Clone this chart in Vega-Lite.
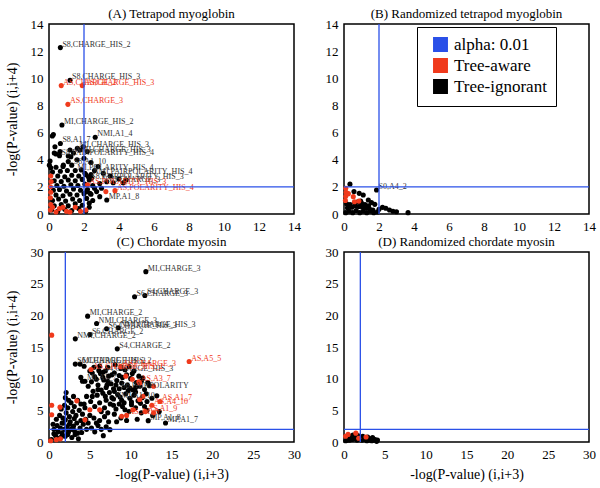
{
"$schema": "https://vega.github.io/schema/vega-lite/v6.json",
"padding": {"left": 4, "top": 7, "right": 0, "bottom": 5},
"config": {
 "font": "Liberation Serif",
 "view": {"stroke": "black", "strokeWidth": 1.5},
 "axis": {"domain": false, "grid": false, "ticks": false, "tickCount": 30, "format": "d", "labelFont": "Liberation Serif", "labelFontSize": 13, "labelColor": "black", "labelPadding": 6, "labelFlush": false, "labelOverlap": false, "labelBound": false, "titleFont": "Liberation Serif", "titleFontSize": 14, "titleFontWeight": "normal", "titleColor": "black", "titlePadding": 6},
 "axisY": {"titlePadding": 11},
 "title": {"font": "Liberation Serif", "fontSize": 13, "fontWeight": "normal", "color": "black", "offset": -3},
 "legend": {"labelFont": "Liberation Serif", "labelFontSize": 17, "labelColor": "black"},
 "text": {"font": "Liberation Serif"}
},
"datasets": {
 "A_ign": [
  {"x":0.65,"y":12.26,"label":"S8,CHARGE_HIS_2"},{"x":1.2,"y":9.85,"label":"S8,CHARGE_HIS_3"},{"x":0.74,"y":6.56,"label":"MI,CHARGE_HIS_2"},{"x":2.64,"y":5.65,"label":"NMI,A1_4"},{"x":0.65,"y":5.2,"label":"S8,A1_7"},{"x":1.62,"y":4.84,"label":"MI,CHARGE_HIS_3"},
  {"x":0.6,"y":4.3,"label":"S8,PAIRPOLARITY_HIS_4"},{"x":1.4,"y":4.5,"label":"NMI,CHARGE_HIS_3"},{"x":1.3,"y":3.6,"label":"S8,A1_10"},{"x":1.5,"y":3.2,"label":"MI,POLARITY_HIS_4"},{"x":2.4,"y":2.9,"label":"NMI,PAIRPOLARITY_HIS_4"},{"x":2.3,"y":2.5,"label":"S8,PAIRPOLARITY_HIS_3"},{"x":2.9,"y":2.25,"label":"NMI,CHARGE_3"},{"x":3.3,"y":1.03,"label":"MP,A1_8"},
  {"x":0.15,"y":0.3},{"x":0.5,"y":0.2},{"x":0.9,"y":0.35},{"x":1.3,"y":0.25},{"x":1.7,"y":0.4},{"x":2.1,"y":0.2},
  {"x":0.3,"y":0.6},{"x":0.7,"y":0.7},{"x":1.1,"y":0.6},{"x":1.5,"y":0.75},{"x":1.9,"y":0.65},{"x":2.3,"y":0.8},
  {"x":0.2,"y":1.0},{"x":0.55,"y":1.1},{"x":0.95,"y":0.95},{"x":1.35,"y":1.1},{"x":1.75,"y":1.0},{"x":2.15,"y":1.15},
  {"x":0.4,"y":1.4},{"x":0.8,"y":1.35},{"x":1.2,"y":1.45},{"x":1.6,"y":1.4},{"x":2.0,"y":1.5},{"x":2.4,"y":1.45},
  {"x":0.25,"y":1.75},{"x":0.6,"y":1.8},{"x":1.0,"y":1.7},{"x":1.4,"y":1.85},{"x":1.8,"y":1.75},{"x":2.2,"y":1.8},
  {"x":0.45,"y":2.1},{"x":0.85,"y":2.05},{"x":1.25,"y":2.15},{"x":1.65,"y":2.1},{"x":2.05,"y":2.2},{"x":2.5,"y":2.1},
  {"x":0.3,"y":2.45},{"x":0.7,"y":2.4},{"x":1.1,"y":2.5},{"x":1.5,"y":2.45},{"x":1.9,"y":2.55},
  {"x":0.5,"y":2.8},{"x":0.9,"y":2.75},{"x":1.3,"y":2.85},{"x":1.7,"y":2.8},{"x":2.1,"y":2.9},
  {"x":0.2,"y":3.1},{"x":0.65,"y":3.15},{"x":1.05,"y":3.2},{"x":1.85,"y":3.25},
  {"x":0.1,"y":3.4},{"x":0.4,"y":3.45},{"x":0.8,"y":3.5},
  {"x":0.06,"y":3.9},{"x":0.02,"y":3.6},{"x":0.19,"y":5.75},{"x":0.25,"y":5.85},{"x":0.34,"y":4.96},{"x":0.63,"y":4.6},{"x":0.4,"y":4.42},{"x":0.3,"y":4.5},
  {"x":1.1,"y":4.27},{"x":1.25,"y":4.22},{"x":1.2,"y":4.72},{"x":1.77,"y":4.72},{"x":1.96,"y":4.96},{"x":2.19,"y":4.6},{"x":0.82,"y":3.6},{"x":1.1,"y":3.86},
  {"x":2.05,"y":3.0},{"x":2.25,"y":2.75},{"x":2.43,"y":2.63},{"x":3.3,"y":2.38},{"x":3.67,"y":2.3},{"x":4.24,"y":2.3},{"x":2.6,"y":3.2},{"x":2.8,"y":3.5},{"x":3.1,"y":3.0},{"x":3.5,"y":2.8},{"x":4.0,"y":2.6},{"x":4.4,"y":2.5},{"x":2.4,"y":3.8},{"x":2.0,"y":4.1},{"x":1.6,"y":4.0},
  {"x":2.9,"y":1.28},{"x":2.72,"y":1.65},{"x":2.15,"y":1.65},{"x":2.34,"y":1.52},{"x":2.6,"y":1.9},{"x":3.0,"y":1.9},{"x":2.5,"y":1.0},{"x":2.3,"y":0.5}
 ],
 "A_aw": [
  {"x":0.7,"y":9.46,"label":"AS,CHARGE_2"},{"x":1.9,"y":9.46,"label":"AS,CHARGE_HIS_3"},{"x":1.08,"y":8.08,"label":"AS,CHARGE_3"},{"x":3.77,"y":1.72,"label":"AS,POLARITY_HIS_4"},{"x":2.2,"y":2.15,"label":"AS,POLARITY_HIS_3"},
  {"x":3.25,"y":1.65},{"x":2.1,"y":0.3},{"x":0.08,"y":0.3},{"x":0.1,"y":0.7},{"x":0.08,"y":1.2},{"x":0.1,"y":1.6},{"x":0.08,"y":2.0},{"x":0.12,"y":2.4},{"x":0.1,"y":2.8},
  {"x":0.4,"y":0.15},{"x":0.8,"y":0.5},{"x":1.2,"y":0.15},{"x":1.5,"y":0.5},{"x":1.8,"y":0.2},{"x":0.6,"y":0.4},{"x":1.0,"y":0.2},{"x":0.2,"y":0.5}
 ],
 "B_ign": [
  {"x":1.86,"y":1.77,"label":"S0,A4_2"},
  {"x":0.34,"y":2.2},{"x":0.57,"y":1.65},{"x":0.87,"y":1.52},{"x":1.1,"y":1.4},{"x":1.39,"y":1.03},{"x":1.57,"y":0.84},{"x":1.76,"y":0.71},{"x":2.2,"y":0.49},{"x":2.39,"y":0.42},{"x":2.6,"y":0.3},{"x":3.0,"y":0.17},{"x":3.66,"y":0.1},{"x":2.0,"y":0.35},{"x":2.8,"y":0.2},
  {"x":0.1,"y":0.1},{"x":0.3,"y":0.2},{"x":0.5,"y":0.1},{"x":0.7,"y":0.25},{"x":0.9,"y":0.1},{"x":1.1,"y":0.2},{"x":1.3,"y":0.1},{"x":1.5,"y":0.2},{"x":1.7,"y":0.1},{"x":1.9,"y":0.15},
  {"x":0.2,"y":0.45},{"x":0.45,"y":0.5},{"x":0.65,"y":0.6},{"x":0.85,"y":0.55},{"x":1.05,"y":0.5},{"x":1.25,"y":0.45},{"x":1.45,"y":0.4},{"x":1.65,"y":0.3},
  {"x":0.35,"y":0.7},{"x":0.6,"y":0.85},{"x":0.8,"y":0.9},{"x":1.0,"y":0.8},{"x":1.2,"y":0.7},{"x":1.4,"y":0.6},{"x":0.15,"y":0.75},{"x":0.95,"y":0.95}
 ],
 "B_aw": [
  {"x":0.1,"y":1.9},{"x":0.12,"y":1.6},{"x":0.1,"y":1.3},{"x":0.08,"y":1.0},{"x":0.53,"y":1.28},{"x":0.6,"y":0.9},{"x":0.85,"y":0.95},{"x":0.25,"y":1.5}
 ],
 "C_ign": [
  {"x":11.86,"y":26.9,"label":"MI,CHARGE_3"},{"x":10.48,"y":22.93,"label":"S6,CHARGE_3"},{"x":11.74,"y":23.14,"label":"S4,CHARGE_3"},{"x":4.73,"y":19.87,"label":"MI,CHARGE_2"},{"x":5.83,"y":18.71,"label":"NMI,CHARGE_3"},{"x":7.05,"y":17.87,"label":"S6,CHARGE_HIS_3"},{"x":8.48,"y":18.03,"label":"NMI,CHARGE_HIS_3"},{"x":5.01,"y":16.97,"label":"S6,CHARGE_2"},{"x":3.22,"y":16.29,"label":"NMI,CHARGE_2"},{"x":8.36,"y":14.71,"label":"S4,CHARGE_2"},
  {"x":3.22,"y":12.3,"label":"S6,CHARGE_HIS_2"},{"x":3.8,"y":12.3,"label":"MI,CHARGE_HIS_2"},{"x":4.3,"y":11.97},{"x":6.6,"y":11.0,"label":"S4,CHARGE_HIS_3"},{"x":4.4,"y":9.6,"label":"MI,A1_7"},{"x":14.27,"y":3.0,"label":"MP,A1_7"},{"x":12.15,"y":3.37,"label":"MP,A1_8"},{"x":7.9,"y":6.8,"label":"NMI,A1_10"},{"x":8.6,"y":8.4,"label":"S6,PAIRPOLARITY"},
  {"x":10.8,"y":3.6},{"x":6.65,"y":1.0},{"x":7.46,"y":1.95},{"x":8.28,"y":3.2},{"x":5.8,"y":3.0},
  {"x":5.2,"y":9.5},{"x":5.6,"y":10.3},{"x":6.0,"y":9.0},{"x":6.3,"y":10.8},{"x":6.7,"y":9.8},{"x":7.0,"y":8.6},{"x":7.3,"y":10.4},{"x":7.6,"y":9.2},{"x":8.0,"y":10.9},{"x":8.3,"y":9.7},{"x":9.0,"y":10.2},{"x":9.3,"y":11.4},{"x":9.6,"y":9.0},{"x":10.0,"y":10.0},{"x":10.3,"y":8.2},{"x":10.7,"y":9.4},{"x":11.1,"y":8.8},{"x":11.5,"y":10.1},{"x":11.9,"y":7.6},{"x":12.3,"y":8.9},
  {"x":5.4,"y":8.0},{"x":5.9,"y":7.4},{"x":6.4,"y":8.2},{"x":6.9,"y":7.2},{"x":7.4,"y":7.8},{"x":8.4,"y":7.5},{"x":8.9,"y":6.6},{"x":9.4,"y":7.6},{"x":9.9,"y":6.9},{"x":10.4,"y":7.4},{"x":10.9,"y":6.5},{"x":11.4,"y":7.0},{"x":12.0,"y":6.4},{"x":12.6,"y":6.9},{"x":13.2,"y":7.3},
  {"x":5.1,"y":6.4},{"x":5.6,"y":5.6},{"x":6.2,"y":6.2},{"x":6.8,"y":5.4},{"x":7.5,"y":6.0},{"x":8.2,"y":5.2},{"x":9.0,"y":5.6},{"x":9.8,"y":4.8},{"x":10.6,"y":5.4},{"x":11.3,"y":4.6},{"x":12.0,"y":5.0},{"x":12.7,"y":4.2},{"x":13.5,"y":4.8},
  {"x":4.8,"y":8.8},{"x":4.6,"y":7.2},{"x":4.3,"y":6.0},{"x":3.9,"y":10.2},{"x":4.1,"y":9.6},{"x":5.0,"y":11.2},{"x":5.5,"y":11.8},{"x":6.2,"y":12.0},{"x":7.2,"y":11.8},{"x":8.1,"y":12.2},{"x":8.8,"y":11.6},{"x":9.8,"y":11.9},{"x":10.4,"y":11.2},
  {"x":5.3,"y":10.9},{"x":5.8,"y":9.9},{"x":6.1,"y":11.3},{"x":6.6,"y":10.2},{"x":6.9,"y":11.2},{"x":7.2,"y":9.6},{"x":7.7,"y":10.6},{"x":7.9,"y":8.4},{"x":8.2,"y":9.0},{"x":8.6,"y":10.5},{"x":8.9,"y":9.3},{"x":9.2,"y":8.6},{"x":9.5,"y":10.6},{"x":9.9,"y":8.5},{"x":10.2,"y":10.8},{"x":10.6,"y":8.6},{"x":11.0,"y":10.4},{"x":11.3,"y":9.6},{"x":11.7,"y":8.3},{"x":12.1,"y":9.4},
  {"x":6.0,"y":8.3},{"x":6.6,"y":7.7},{"x":7.1,"y":9.0},{"x":7.7,"y":7.0},{"x":8.0,"y":8.0},{"x":8.7,"y":7.1},{"x":9.2,"y":6.2},{"x":9.7,"y":8.1},{"x":10.1,"y":6.3},{"x":10.6,"y":7.9},{"x":11.2,"y":6.1},{"x":11.7,"y":5.6},{"x":7.0,"y":6.6},{"x":7.9,"y":5.8},{"x":8.6,"y":6.0},{"x":9.3,"y":5.1},{"x":10.1,"y":5.9},{"x":6.4,"y":4.8},{"x":7.2,"y":4.6},{"x":5.3,"y":7.2},
  {"x":0.3,"y":0.4},{"x":0.8,"y":1.0},{"x":1.2,"y":0.6},{"x":1.6,"y":1.4},{"x":2.0,"y":0.9},{"x":2.4,"y":1.6},{"x":2.8,"y":0.7},{"x":3.2,"y":1.2},{"x":3.6,"y":0.5},{"x":4.0,"y":1.5},
  {"x":0.6,"y":2.0},{"x":1.0,"y":2.6},{"x":1.4,"y":2.2},{"x":1.8,"y":3.0},{"x":2.2,"y":2.4},{"x":2.6,"y":3.2},{"x":3.0,"y":2.5},{"x":3.4,"y":3.0},{"x":3.8,"y":2.2},{"x":4.2,"y":2.8},{"x":4.6,"y":2.0},
  {"x":0.9,"y":3.6},{"x":1.3,"y":4.2},{"x":1.7,"y":3.8},{"x":2.1,"y":4.6},{"x":2.5,"y":4.0},{"x":2.9,"y":4.8},{"x":3.3,"y":4.2},{"x":3.7,"y":5.0},{"x":4.1,"y":4.4},{"x":4.5,"y":3.6},
  {"x":1.5,"y":5.2},{"x":1.9,"y":5.8},{"x":2.3,"y":5.4},{"x":2.7,"y":6.2},{"x":3.1,"y":5.6},{"x":3.5,"y":6.6},{"x":3.9,"y":6.0},{"x":4.4,"y":5.4},{"x":2.0,"y":7.0},{"x":2.4,"y":6.6},{"x":3.0,"y":7.2},{"x":2.1,"y":7.8},
  {"x":4.8,"y":3.0},{"x":5.2,"y":2.2},{"x":5.6,"y":1.6},{"x":6.0,"y":2.6},{"x":6.4,"y":2.0},{"x":7.0,"y":2.4},{"x":5.0,"y":4.2},{"x":5.5,"y":3.8},{"x":6.2,"y":3.4},{"x":6.8,"y":4.0},{"x":7.3,"y":3.2},{"x":8.0,"y":4.4},{"x":8.8,"y":3.8},{"x":9.5,"y":3.4},
  {"x":1.1,"y":1.6},{"x":1.5,"y":0.8},{"x":1.9,"y":2.0},{"x":2.3,"y":1.2},{"x":2.7,"y":2.0},{"x":3.1,"y":1.8},{"x":3.5,"y":1.4},{"x":3.9,"y":3.4},{"x":2.5,"y":2.8},{"x":1.6,"y":3.0},{"x":2.0,"y":3.5},{"x":3.1,"y":3.7},{"x":0.6,"y":1.3},{"x":0.5,"y":2.8}
 ],
 "C_aw": [
  {"x":17.16,"y":12.7,"label":"AS,A5_5"},{"x":8.8,"y":11.9,"label":"AS,CHARGE_3"},{"x":5.14,"y":11.44,"label":"AS,CHARGE_HIS_2"},{"x":11.0,"y":9.5,"label":"AS,A3_7"},{"x":13.6,"y":6.4,"label":"AS,A1_7"},{"x":12.6,"y":5.8,"label":"AS,A4_10"},{"x":11.8,"y":4.8,"label":"AS,A1_9"},{"x":9.5,"y":4.2,"label":"AS,A1_8"},
  {"x":0.33,"y":16.87},{"x":0.33,"y":5.8},{"x":0.33,"y":4.3},{"x":1.35,"y":5.5},{"x":3.4,"y":6.5},{"x":4.4,"y":3.5},{"x":5.0,"y":5.1},{"x":6.2,"y":5.1},{"x":8.9,"y":4.06},{"x":10.3,"y":5.1},{"x":11.1,"y":6.7},{"x":11.5,"y":7.2},{"x":12.8,"y":4.6},{"x":11.1,"y":9.3},{"x":12.8,"y":8.8},{"x":0.9,"y":0.37},{"x":1.4,"y":0.5},{"x":0.2,"y":0.2},{"x":9.4,"y":10.4},{"x":10.2,"y":9.9}
 ],
 "D_ign": [
  {"x":0.2,"y":0.2},{"x":0.5,"y":0.6},{"x":0.8,"y":0.9},{"x":1.1,"y":1.1},{"x":1.4,"y":0.8},{"x":1.7,"y":1.0},{"x":2.0,"y":0.7},{"x":2.3,"y":0.9},{"x":2.6,"y":0.6},{"x":2.9,"y":0.8},{"x":3.2,"y":0.5},{"x":3.5,"y":0.7},{"x":3.8,"y":0.4},{"x":4.1,"y":0.3},
  {"x":0.4,"y":0.3},{"x":1.0,"y":0.4},{"x":1.6,"y":0.3},{"x":2.2,"y":0.3},{"x":2.8,"y":0.2},{"x":3.4,"y":0.2},{"x":4.0,"y":0.1},{"x":0.7,"y":0.3},{"x":1.3,"y":0.5},{"x":1.9,"y":0.5},{"x":2.5,"y":0.4},{"x":3.1,"y":0.3},{"x":3.7,"y":0.3}
 ],
 "D_aw": [
  {"x":1.45,"y":1.4},{"x":0.5,"y":1.2},{"x":2.7,"y":0.8},{"x":0.2,"y":0.9},{"x":1.8,"y":0.6}
 ]
},
"vconcat": [
 {"hconcat": [
  {"width": 245, "height": 190, "title": "(A) Tetrapod myoglobin",
   "layer": [
    {"data": {"name": "A_ign"}, "mark": {"type": "point", "filled": true, "size": 26, "opacity": 1},
     "encoding": {
      "x": {"field": "x", "type": "quantitative", "scale": {"domain": [0, 14]}, "axis": {"values": [0,2,4,6,8,10,12,14], "format": "d", "tickCount": 30, "labelOverlap": false, "title": null}},
      "y": {"field": "y", "type": "quantitative", "scale": {"domain": [0, 14]}, "axis": {"values": [0,2,4,6,8,10,12,14], "format": "d", "tickCount": 30, "labelOverlap": false, "title": "-log(P-value) (i,i+4)"}},
      "color": {"datum": "Tree-ignorant", "type": "nominal",
       "scale": {"domain": ["alpha: 0.01", "Tree-aware", "Tree-ignorant"], "range": ["#2a50e8", "#f03a1c", "#000000"]},
       "legend": {"title": null, "orient": "none", "legendX": 368, "legendY": 3, "labelFont": "Liberation Serif", "labelFontSize": 17, "labelColor": "black", "symbolSize": 180, "symbolType": "square", "symbolOffset": 6, "labelOffset": 5, "rowPadding": 0, "padding": 9, "strokeColor": "black", "fillColor": "white",
        "encode": {"symbols": {"update": {
          "shape": {"signal": "datum.value === 'alpha: 0.01' ? 'stroke' : 'square'"},
          "fill": {"signal": "datum.value === 'alpha: 0.01' ? 'transparent' : (datum.value === 'Tree-aware' ? '#f03a1c' : '#000000')"},
          "stroke": {"signal": "datum.value === 'alpha: 0.01' ? '#2a50e8' : 'transparent'"},
          "strokeWidth": {"value": 1.5}, "opacity": {"value": 1}}}}}}
     }},
    {"data": {"name": "A_aw"}, "mark": {"type": "point", "filled": true, "size": 26, "opacity": 1},
     "encoding": {"x": {"field": "x", "type": "quantitative"}, "y": {"field": "y", "type": "quantitative"}, "color": {"datum": "Tree-aware", "type": "nominal"}}},
    {"data": {"name": "A_ign"}, "transform": [{"filter": "datum.label"}], "mark": {"type": "text", "align": "left", "baseline": "bottom", "dx": 2, "dy": 1, "fontSize": 8, "color": "#333"},
     "encoding": {"x": {"field": "x", "type": "quantitative"}, "y": {"field": "y", "type": "quantitative"}, "text": {"field": "label"}}},
    {"data": {"name": "A_aw"}, "transform": [{"filter": "datum.label"}], "mark": {"type": "text", "align": "left", "baseline": "bottom", "dx": 2, "dy": 1, "fontSize": 8, "color": "#f03a1c"},
     "encoding": {"x": {"field": "x", "type": "quantitative"}, "y": {"field": "y", "type": "quantitative"}, "text": {"field": "label"}}},
    {"data": {"values": [{}]}, "mark": {"type": "rule", "strokeWidth": 1.3}, "encoding": {"x": {"datum": 2, "type": "quantitative"}, "color": {"datum": "alpha: 0.01", "type": "nominal"}}},
    {"data": {"values": [{}]}, "mark": {"type": "rule", "strokeWidth": 1.3}, "encoding": {"y": {"datum": 2, "type": "quantitative"}, "color": {"datum": "alpha: 0.01", "type": "nominal"}}}
   ]},
  {"width": 245, "height": 190, "title": "(B) Randomized tetrapod myoglobin",
   "layer": [
    {"data": {"name": "B_ign"}, "mark": {"type": "point", "filled": true, "size": 26, "opacity": 1},
     "encoding": {
      "x": {"field": "x", "type": "quantitative", "scale": {"domain": [0, 14]}, "axis": {"values": [0,2,4,6,8,10,12,14], "format": "d", "tickCount": 30, "labelOverlap": false, "title": null}},
      "y": {"field": "y", "type": "quantitative", "scale": {"domain": [0, 14]}, "axis": {"values": [0,2,4,6,8,10,12,14], "format": "d", "tickCount": 30, "labelOverlap": false, "title": null}},
      "color": {"datum": "Tree-ignorant", "type": "nominal"}}},
    {"data": {"name": "B_aw"}, "mark": {"type": "point", "filled": true, "size": 26, "opacity": 1},
     "encoding": {"x": {"field": "x", "type": "quantitative"}, "y": {"field": "y", "type": "quantitative"}, "color": {"datum": "Tree-aware", "type": "nominal"}}},
    {"data": {"name": "B_ign"}, "transform": [{"filter": "datum.label"}], "mark": {"type": "text", "align": "left", "baseline": "bottom", "dx": 2, "dy": 1, "fontSize": 8, "color": "#333"},
     "encoding": {"x": {"field": "x", "type": "quantitative"}, "y": {"field": "y", "type": "quantitative"}, "text": {"field": "label"}}},
    {"data": {"values": [{}]}, "mark": {"type": "rule", "strokeWidth": 1.3}, "encoding": {"x": {"datum": 2, "type": "quantitative"}, "color": {"datum": "alpha: 0.01", "type": "nominal"}}},
    {"data": {"values": [{}]}, "mark": {"type": "rule", "strokeWidth": 1.3}, "encoding": {"y": {"datum": 2, "type": "quantitative"}, "color": {"datum": "alpha: 0.01", "type": "nominal"}}}
   ]}
 ], "spacing": 22},
 {"hconcat": [
  {"width": 245, "height": 190, "title": "(C) Chordate myosin",
   "layer": [
    {"data": {"name": "C_ign"}, "mark": {"type": "point", "filled": true, "size": 26, "opacity": 1},
     "encoding": {
      "x": {"field": "x", "type": "quantitative", "scale": {"domain": [0, 30]}, "axis": {"values": [0,5,10,15,20,25,30], "format": "d", "tickCount": 30, "labelOverlap": false, "title": "-log(P-value) (i,i+3)"}},
      "y": {"field": "y", "type": "quantitative", "scale": {"domain": [0, 30]}, "axis": {"values": [0,5,10,15,20,25,30], "format": "d", "tickCount": 30, "labelOverlap": false, "title": "-log(P-value) (i,i+4)"}},
      "color": {"datum": "Tree-ignorant", "type": "nominal"}}},
    {"data": {"name": "C_aw"}, "mark": {"type": "point", "filled": true, "size": 26, "opacity": 1},
     "encoding": {"x": {"field": "x", "type": "quantitative"}, "y": {"field": "y", "type": "quantitative"}, "color": {"datum": "Tree-aware", "type": "nominal"}}},
    {"data": {"name": "C_ign"}, "transform": [{"filter": "datum.label"}], "mark": {"type": "text", "align": "left", "baseline": "bottom", "dx": 2, "dy": 1, "fontSize": 8, "color": "#333"},
     "encoding": {"x": {"field": "x", "type": "quantitative"}, "y": {"field": "y", "type": "quantitative"}, "text": {"field": "label"}}},
    {"data": {"name": "C_aw"}, "transform": [{"filter": "datum.label"}], "mark": {"type": "text", "align": "left", "baseline": "bottom", "dx": 2, "dy": 1, "fontSize": 8, "color": "#f03a1c"},
     "encoding": {"x": {"field": "x", "type": "quantitative"}, "y": {"field": "y", "type": "quantitative"}, "text": {"field": "label"}}},
    {"data": {"values": [{}]}, "mark": {"type": "rule", "strokeWidth": 1.3}, "encoding": {"x": {"datum": 2, "type": "quantitative"}, "color": {"datum": "alpha: 0.01", "type": "nominal"}}},
    {"data": {"values": [{}]}, "mark": {"type": "rule", "strokeWidth": 1.3}, "encoding": {"y": {"datum": 2, "type": "quantitative"}, "color": {"datum": "alpha: 0.01", "type": "nominal"}}}
   ]},
  {"width": 245, "height": 190, "title": "(D) Randomized chordate myosin",
   "layer": [
    {"data": {"name": "D_ign"}, "mark": {"type": "point", "filled": true, "size": 26, "opacity": 1},
     "encoding": {
      "x": {"field": "x", "type": "quantitative", "scale": {"domain": [0, 30]}, "axis": {"values": [0,5,10,15,20,25,30], "format": "d", "tickCount": 30, "labelOverlap": false, "title": "-log(P-value) (i,i+3)"}},
      "y": {"field": "y", "type": "quantitative", "scale": {"domain": [0, 30]}, "axis": {"values": [0,5,10,15,20,25,30], "format": "d", "tickCount": 30, "labelOverlap": false, "title": null}},
      "color": {"datum": "Tree-ignorant", "type": "nominal"}}},
    {"data": {"name": "D_aw"}, "mark": {"type": "point", "filled": true, "size": 26, "opacity": 1},
     "encoding": {"x": {"field": "x", "type": "quantitative"}, "y": {"field": "y", "type": "quantitative"}, "color": {"datum": "Tree-aware", "type": "nominal"}}},
    {"data": {"values": [{}]}, "mark": {"type": "rule", "strokeWidth": 1.3}, "encoding": {"x": {"datum": 2, "type": "quantitative"}, "color": {"datum": "alpha: 0.01", "type": "nominal"}}},
    {"data": {"values": [{}]}, "mark": {"type": "rule", "strokeWidth": 1.3}, "encoding": {"y": {"datum": 2, "type": "quantitative"}, "color": {"datum": "alpha: 0.01", "type": "nominal"}}}
   ]}
 ], "spacing": 22}
],
"spacing": 1
}
